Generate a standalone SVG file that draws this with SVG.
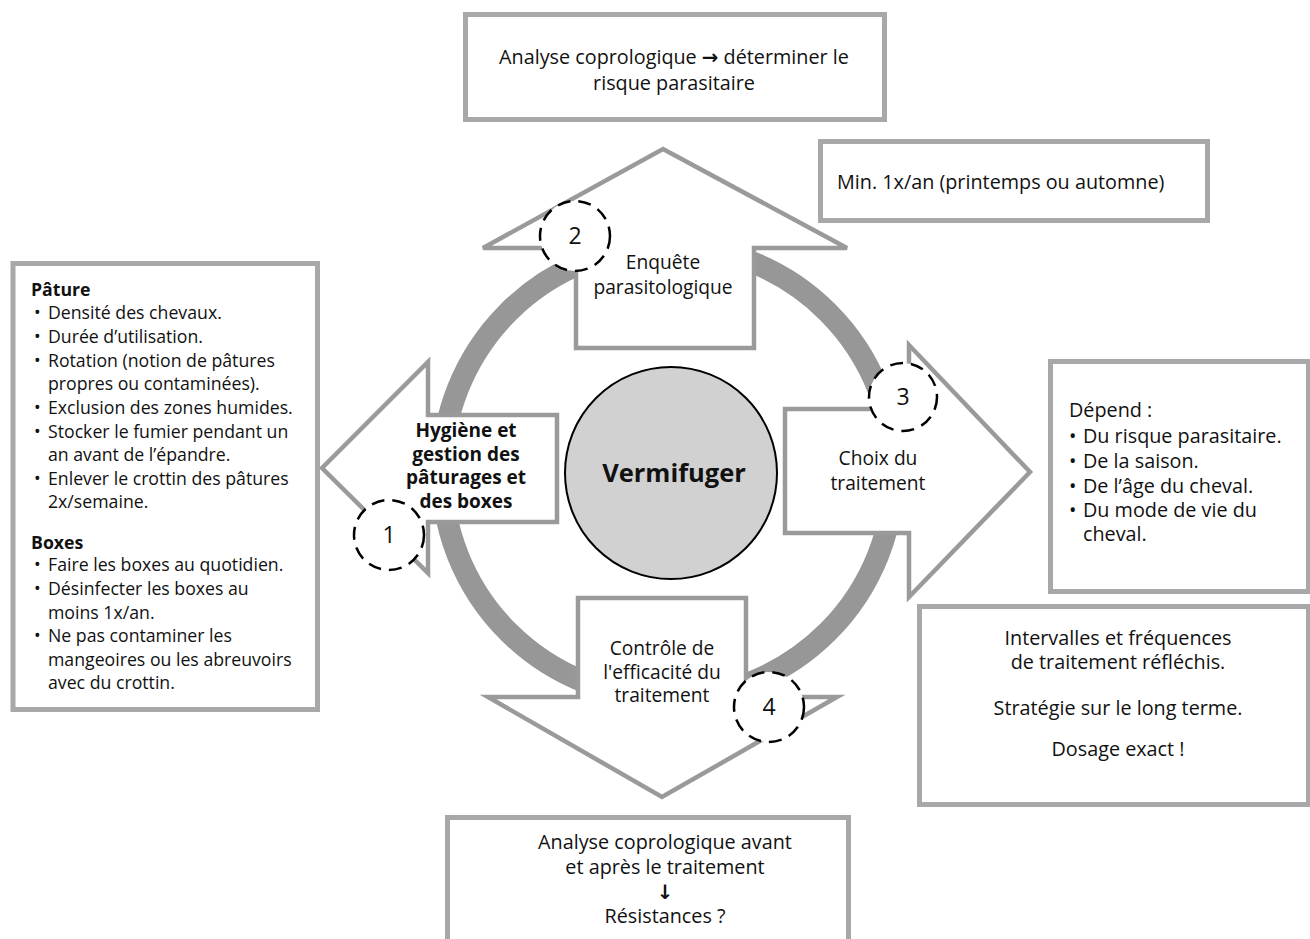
<svg xmlns="http://www.w3.org/2000/svg" width="1310" height="939" viewBox="0 0 1310 939">
<style>
text{font-family:"Open Sans","Noto Sans","DejaVu Sans",sans-serif;fill:#111}
.box{fill:#fff;stroke:#a8a8a8;stroke-width:5}
.arr{fill:#fff;stroke:#9a9a9a;stroke-width:4.5;stroke-linejoin:miter}
.num{fill:#fff;stroke:#000;stroke-width:2.5;stroke-dasharray:13 8}
.t19{font-size:19.8px}
.lab{font-size:19.2px}
.t17{font-size:17.7px}
.c{text-anchor:middle}
.b{font-weight:bold}
.numt{font-size:23px;text-anchor:middle}
</style>
<rect width="1310" height="939" fill="#fff"/>
<g id="connectors">
<circle cx="668" cy="472" r="226" fill="none" stroke="#979797" stroke-width="22"/>
</g>
<g id="center">
<circle cx="671" cy="473" r="106" fill="#d1d1d1" stroke="#000" stroke-width="2"/>
<text x="674" y="482" class="c b" font-size="25.5">Vermifuger</text>
</g>
<g id="step1">
<polygon class="arr" points="322,468 428,362 428,415 557,415 557,522 428,522 428,573"/>
<circle class="num" cx="389" cy="535" r="35"/>
<text x="389" y="543" class="numt">1</text>
<text class="c b" font-size="19"><tspan x="466" y="437">Hygiène et</tspan><tspan x="466" y="460.5">gestion des</tspan><tspan x="466" y="484">pâturages et</tspan><tspan x="466" y="507.5">des boxes</tspan></text>
</g>
<g id="step2">
<polygon class="arr" points="663,149 847,248 754,248 754,348 576,348 576,248 483,248"/>
<circle class="num" cx="575" cy="236" r="35"/>
<text x="575" y="244" class="numt">2</text>
<text class="c lab"><tspan x="663" y="269">Enquête</tspan><tspan x="663" y="294">parasitologique</tspan></text>
</g>
<g id="step3">
<polygon class="arr" points="1030,472 909,597 909,533 785,533 785,409 909,409 909,345"/>
<circle class="num" cx="903" cy="397" r="34"/>
<text x="903" y="405" class="numt">3</text>
<text class="c lab"><tspan x="878" y="465">Choix du</tspan><tspan x="878" y="490">traitement</tspan></text>
</g>
<g id="step4">
<polygon class="arr" points="578,598 746,598 746,697 837,697 662,797 488,697 578,697"/>
<circle class="num" cx="769" cy="707" r="35"/>
<text x="769" y="715" class="numt">4</text>
<text class="c lab"><tspan x="662" y="655">Contrôle de</tspan><tspan x="662" y="678.5">l'efficacité du</tspan><tspan x="662" y="702">traitement</tspan></text>
</g>
<g id="box-top">
<rect class="box" x="465.5" y="14.5" width="419" height="105"/>
<text class="c t19"><tspan x="674" y="64">Analyse coprologique <tspan class="b">→</tspan> déterminer le</tspan><tspan x="674" y="90">risque parasitaire</tspan></text>
</g>
<g id="box-min">
<rect class="box" x="820.5" y="141.5" width="387" height="79"/>
<text x="837" y="189" class="t19">Min. 1x/an (printemps ou automne)</text>
</g>
<g id="box-left">
<rect class="box" x="13" y="263.5" width="304.5" height="446"/>
<text class="t17">
<tspan x="31" y="296" class="b">Pâture</tspan>
<tspan x="34" y="319">•</tspan><tspan x="48" y="319">Densité des chevaux.</tspan>
<tspan x="34" y="343">•</tspan><tspan x="48" y="343">Durée d’utilisation.</tspan>
<tspan x="34" y="367">•</tspan><tspan x="48" y="367">Rotation (notion de pâtures</tspan>
<tspan x="48" y="390">propres ou contaminées).</tspan>
<tspan x="34" y="414">•</tspan><tspan x="48" y="414">Exclusion des zones humides.</tspan>
<tspan x="34" y="438">•</tspan><tspan x="48" y="438">Stocker le fumier pendant un</tspan>
<tspan x="48" y="461">an avant de l’épandre.</tspan>
<tspan x="34" y="485">•</tspan><tspan x="48" y="485">Enlever le crottin des pâtures</tspan>
<tspan x="48" y="508">2x/semaine.</tspan>
<tspan x="31" y="549" class="b">Boxes</tspan>
<tspan x="34" y="571">•</tspan><tspan x="48" y="571">Faire les boxes au quotidien.</tspan>
<tspan x="34" y="595">•</tspan><tspan x="48" y="595">Désinfecter les boxes au</tspan>
<tspan x="48" y="619">moins 1x/an.</tspan>
<tspan x="34" y="642">•</tspan><tspan x="48" y="642">Ne pas contaminer les</tspan>
<tspan x="48" y="666">mangeoires ou les abreuvoirs</tspan>
<tspan x="48" y="689">avec du crottin.</tspan>
</text>
</g>
<g id="box-right">
<rect class="box" x="1050.5" y="361.5" width="258" height="230"/>
<text class="t19">
<tspan x="1069" y="417">Dépend :</tspan>
<tspan x="1069" y="443">•</tspan><tspan x="1083" y="443">Du risque parasitaire.</tspan>
<tspan x="1069" y="468">•</tspan><tspan x="1083" y="468">De la saison.</tspan>
<tspan x="1069" y="493">•</tspan><tspan x="1083" y="493">De l’âge du cheval.</tspan>
<tspan x="1069" y="517">•</tspan><tspan x="1083" y="517">Du mode de vie du</tspan>
<tspan x="1083" y="541">cheval.</tspan>
</text>
</g>
<g id="box-strategy">
<rect class="box" x="919.5" y="606.5" width="389" height="198"/>
<text class="c t19"><tspan x="1118" y="645">Intervalles et fréquences</tspan><tspan x="1118" y="669">de traitement réfléchis.</tspan><tspan x="1118" y="715">Stratégie sur le long terme.</tspan><tspan x="1118" y="756">Dosage exact !</tspan></text>
</g>
<g id="box-bottom">
<rect class="box" x="447.5" y="817.5" width="401" height="140"/>
<text class="c t19"><tspan x="665" y="849">Analyse coprologique avant</tspan><tspan x="665" y="874">et après le traitement</tspan><tspan x="665" y="899" class="b">↓</tspan><tspan x="665" y="923">Résistances ?</tspan></text>
</g>
</svg>
